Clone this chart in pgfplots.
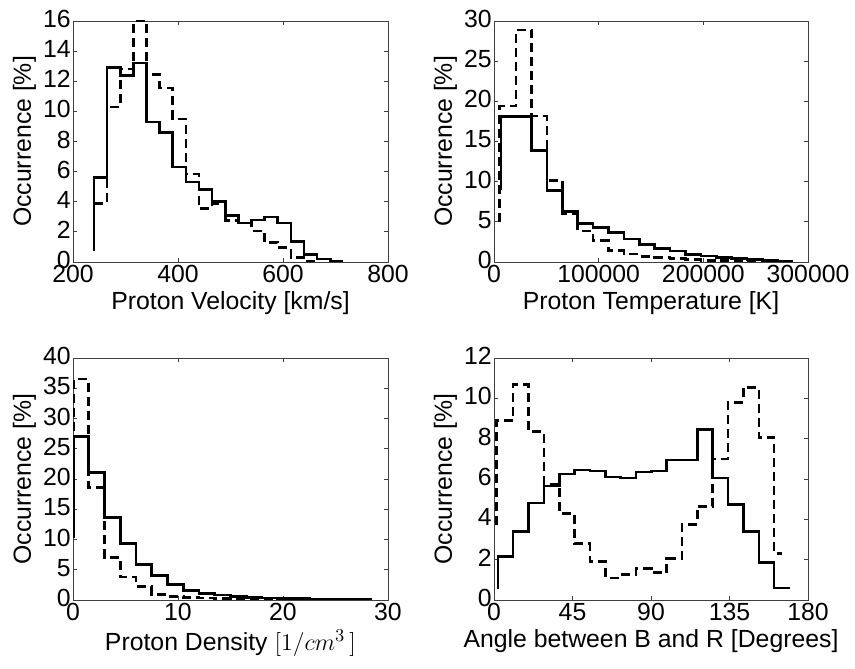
\documentclass[border=0pt]{standalone}
\usepackage{fontspec}
\setmainfont{Liberation Sans}
\usepackage{pgfplots}
\pgfplotsset{compat=1.18}
\begin{document}
\begin{tikzpicture}
\pgfplotsset{
  hist/.style={
    scale only axis, anchor=south west,
    font=\fontsize{12.4}{14}\selectfont,
    tick label style={font=\fontsize{12.4}{14}\selectfont, inner sep=1pt},
    xticklabel style={yshift=-0.5pt},
    yticklabel style={yshift=1pt},
    label style={font=\fontsize{12.4}{14}\selectfont},
    /pgf/number format/assume math mode=true,
    axis line style={black!75, line width=0.4pt},
    tick style={black!75, line width=0.4pt},
    tick align=inside, xtick pos=both, ytick pos=both,
    major tick length=2.2pt,
    ylabel={Occurrence [\%]},
    ymin=0,
    xlabel style={yshift=0pt},
    ylabel style={yshift=-1pt},
  },
  solidh/.style={const plot, black, line width=1.3pt, mark=none},
  dashh/.style={const plot, black, line width=1.3pt, dash pattern=on 4.5pt off 2.5pt, mark=none},
}
\path[use as bounding box] (0pt,0pt) rectangle (427.5pt,334pt);

% Panel 1
\begin{axis}[hist, at={(36.5pt,203pt)}, width=157.5pt, height=120.5pt,
  xmin=200, xmax=800, ymax=16, xtick={200,400,600,800},
  ytick={0,2,...,16}, xlabel={Proton Velocity [km/s]}]
\addplot[solidh] coordinates {(240,0.7)(240,5.6)(265,12.9)(290,12.4)(315,13.2)(340,9.3)(365,8.6)(390,6.3)(415,5.3)(440,4.8)(465,4.0)(490,3.1)(515,2.6)(540,2.8)(565,3.0)(590,2.6)(615,1.35)(640,0.5)(665,0.2)(690,0.05)(715,0.05)};
\addplot[dashh] coordinates {(240,3.9)(265,10.3)(290,12.8)(315,16)(340,12.45)(365,11.55)(390,9.5)(415,5.85)(440,3.55)(465,3.85)(490,2.75)(515,2.6)(540,2.05)(565,1.3)(590,0.95)(615,0.3)(640,0.05)(665,0.05)};
\end{axis}

% Panel 2
\begin{axis}[hist, at={(247pt,203pt)}, width=157pt, height=120.5pt,
  xmin=0, xmax=300000, ymax=30, xtick={0,100000,200000,300000},
  xticklabels={0,100000,200000,300000}, scaled x ticks=false,
  ytick={0,5,...,30}, xlabel={Proton Temperature [K]}]
\addplot[solidh] coordinates {(6500,9)(6500,18.1)(21200,18.1)(35900,13.9)(50600,8.9)(65300,6.3)(80000,4.8)(94700,4.3)(109400,3.65)(124100,2.85)(138800,2.2)(153500,1.65)(168200,1.35)(182900,0.95)(197600,0.75)(212300,0.55)(227000,0.4)(241700,0.3)(256400,0.15)(271100,0.1)(285800,0.1)};
\addplot[dashh] coordinates {(5000,5)(5000,19.4)(21200,28.9)(35900,18.15)(50600,10.15)(65300,6.05)(80000,3.85)(94700,2.65)(109400,1.4)(124100,1.0)(138800,0.7)(153500,0.55)(168200,0.4)(182900,0.3)(197600,0.2)(212300,0.15)(227000,0.1)(241700,0.05)(256400,0.05)};
\end{axis}

% Panel 3
\begin{axis}[hist, at={(36.5pt,34pt)}, width=157.5pt, height=121pt,
  xmin=0, xmax=30, ymax=40, xtick={0,10,20,30},
  ytick={0,5,...,40}, xlabel={Proton Density $[1/cm^3\,]$}]
\addplot[solidh] coordinates {(0.05,10.3)(0.05,27)(1.5,21.1)(3,13.6)(4.5,9.3)(6,5.9)(7.5,4.0)(9,2.6)(10.5,1.6)(12,1.1)(13.5,0.8)(15,0.55)(16.5,0.4)(18,0.3)(19.5,0.25)(21,0.2)(22.5,0.15)(24,0.1)(25.5,0.08)(27,0.05)(28.5,0.05)};
\addplot[dashh] coordinates {(0.05,28)(0.05,36.5)(1.5,18.6)(3,7.0)(4.5,3.8)(6,2.2)(7.5,0.95)(9,0.6)(10.5,0.4)(12,0.3)(13.5,0.2)(15,0.15)(16.5,0.1)(18,0.05)(19.5,0.05)};
\end{axis}

% Panel 4
\begin{axis}[hist, at={(247pt,34pt)}, width=157pt, height=121pt,
  xmin=0, xmax=180, ymax=12, xtick={0,45,90,135,180},
  ytick={0,2,...,12}, xlabel={Angle between B and R [Degrees]}]
\addplot[solidh] coordinates {(2.2,0.55)(2.2,2.15)(11,3.4)(19.8,4.8)(28.6,5.65)(37.4,6.25)(46.2,6.45)(55,6.4)(63.8,6.1)(72.6,6.05)(81.4,6.35)(90.2,6.4)(99,6.95)(107.8,6.95)(116.6,8.45)(125.4,6.05)(134.2,4.75)(143,3.4)(151.8,1.85)(160.6,0.6)(169.4,0.6)};
\addplot[dashh] coordinates {(1.5,3.7)(1.5,8.9)(11,10.7)(19.8,8.35)(28.6,5.75)(37.4,4.3)(46.2,2.8)(55,1.9)(63.8,1.1)(72.6,1.25)(81.4,1.55)(90.2,1.35)(99,2.05)(107.8,3.75)(116.6,4.65)(125.4,7.0)(134.2,9.8)(143,10.55)(151.8,8.05)(160.6,2.3)(165,2.3)};
\end{axis}
\end{tikzpicture}
\end{document}
